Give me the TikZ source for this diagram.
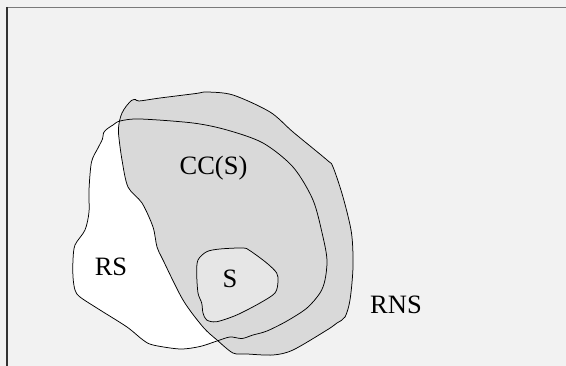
\documentclass[tikz,border=0pt]{standalone}
\usepackage{fontspec}
\setmainfont{Liberation Serif}
\definecolor{bgpaper}{HTML}{F2F2F2}
\definecolor{regiongray}{HTML}{D9D9D9}
\definecolor{seedgray}{HTML}{E6E6E6}
\definecolor{frametop}{HTML}{7A7A7A}
\definecolor{frameleft}{HTML}{333333}
\begin{document}
\begin{tikzpicture}[x=1pt,y=-1pt,
  outline/.style={draw=black,line width=0.75pt,line join=round},
  setlabel/.style={inner sep=0pt,font=\fontsize{26.5}{30}\selectfont}]
% page and frame
\fill[bgpaper] (0,0) rectangle (566,366);
\useasboundingbox (0,0) rectangle (566,366);
\draw[frametop,line width=1.4pt] (6.5,7.5) -- (566,7.5);
\draw[frameleft,line width=1.4pt] (7,7) -- (7,366);

% RS region (white)
\def\rspath{plot[smooth cycle,tension=0.5] coordinates {
  (120,121) (140,119) (193,123) (227,130) (263,143) (293,167) (313,200)
  (323,237) (327,260) (325,280) (320,293) (307,308) (287,321) (267,331)
  (253,335) (242,338.5) (230,337) (217,341) (200,346.5) (180,349) (153,345)
  (143,340) (127,327) (100,310) (80,297) (75,290) (73,277) (73,260) (75,245)
  (85,230) (89,212) (89,190) (91.5,162) (98,148) (102.5,139) (103.5,133)
  (107,129) (113,125)}}
\fill[white] \rspath;

% RNS region (gray)
\def\rnspath{plot[smooth cycle,tension=0.5] coordinates {
  (135.5,99.5) (139,101) (160,98) (196,93.5) (207,92) (233,95) (270,112)
  (293,132) (327,160) (333,167) (343,197) (351.5,233) (353,267) (350,300)
  (345,317) (337,323) (327,330) (293,350) (273,355) (247,354) (233,353)
  (217,340) (203,327) (183,300) (163,260) (157,247) (153,227) (142,203)
  (128,187) (122,160) (118.5,133) (119.5,121) (122,113) (126,106.5) (131.5,100.5)}}
\fill[regiongray] \rnspath;

\draw[outline] \rspath;
\draw[outline] \rnspath;

% S region
\filldraw[outline,fill=seedgray] plot[smooth cycle,tension=0.5] coordinates {
  (198,260) (206.7,251.7) (220,249) (243,248) (250,250.7) (266.7,263)
  (276.7,273) (278,281.7) (275,293) (260,303) (236.7,315) (216.7,321.7)
  (206.7,320) (203,313) (201.7,303) (198,293) (196.7,273)};

% labels
\node[setlabel] (ccs) at (213.5,168.5) {CC(S)};
\node[setlabel] (rs)  at (111,266.5) {RS};
\node[setlabel] (s)   at (230,278.5) {S};
\node[setlabel] (rns) at (396,304.5) {RNS};
\end{tikzpicture}
\end{document}
